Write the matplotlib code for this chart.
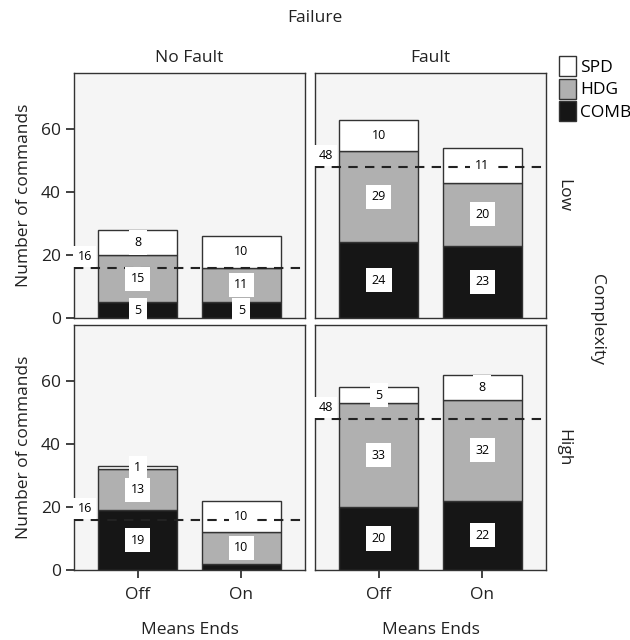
import matplotlib
matplotlib.use("Agg")
import matplotlib.pyplot as plt
from matplotlib.patches import Patch

plt.rcParams['font.family'] = ['Open Sans', 'DejaVu Sans']

means_ends = ["Off", "On"]
failure = ["No Fault", "Fault"]
complexity = ["Low", "High"]
types = ["COMB", "HDG", "SPD"]
colors = {"COMB": "#161616", "HDG": "#b0b0b0", "SPD": "#ffffff"}

# values[(complexity, failure)][type] = [Off, On]
comb = {("Low", "No Fault"): [5, 5], ("Low", "Fault"): [24, 23],
        ("High", "No Fault"): [19, 2], ("High", "Fault"): [20, 22]}
hdg = {("Low", "No Fault"): [15, 11], ("Low", "Fault"): [29, 20],
       ("High", "No Fault"): [13, 10], ("High", "Fault"): [33, 32]}
spd = {("Low", "No Fault"): [8, 10], ("Low", "Fault"): [10, 11],
       ("High", "No Fault"): [1, 10], ("High", "Fault"): [5, 8]}
ref_line = {"No Fault": 16, "Fault": 48}
# labels that are not printed in the original
hidden = [("High", "No Fault", "COMB", "On")]

fig = plt.figure(figsize=(6.3, 6.4), dpi=100)

W, H = 630, 640
lefts = [74, 315]
tops = [73, 325]
pw, ph = 231, 245
fs = 12.5
tc = "#222222"

for r, cx in enumerate(complexity):
    for c, fl in enumerate(failure):
        ax = fig.add_axes([lefts[c] / W, 1 - (tops[r] + ph) / H, pw / W, ph / H])
        ax.set_facecolor("#f5f5f5")
        data = {"COMB": comb[(cx, fl)], "HDG": hdg[(cx, fl)], "SPD": spd[(cx, fl)]}
        xs = [1, 2]
        bottom = [0, 0]
        for t in types:
            vals = data[t]
            ax.bar(xs, vals, width=0.76, bottom=bottom, color=colors[t],
                   edgecolor="#333333", linewidth=1.0, zorder=2)
            for i, v in enumerate(vals):
                if (cx, fl, t, means_ends[i]) in hidden:
                    continue
                ax.text(xs[i], bottom[i] + v / 2, str(v), ha="center", va="center",
                        fontsize=9, zorder=5,
                        bbox=dict(boxstyle="square,pad=0.45", fc="white", ec="none"))
            bottom = [bottom[i] + vals[i] for i in range(2)]
        rl = ref_line[fl]
        ax.axhline(rl, color="#222222", linestyle=(0, (4.5, 3.5)), linewidth=1.5, zorder=4)
        ax.text(0.42, rl + 1.5, str(rl), ha="left", va="bottom", fontsize=9, zorder=5,
                bbox=dict(boxstyle="square,pad=0.35", fc="white", ec="none"))
        ax.set_xlim(0.385, 2.615)
        ax.set_ylim(0, 77.8)
        for s in ax.spines.values():
            s.set_color("#333333")
            s.set_linewidth(1.0)
        ax.tick_params(axis="both", length=6, width=1.3, color="#333333",
                       labelsize=fs, labelcolor=tc)
        ax.tick_params(axis="x", pad=6)
        if c == 0:
            ax.set_yticks([0, 20, 40, 60])
            ax.set_ylabel("Number of commands", fontsize=fs, color=tc, labelpad=6)
        else:
            ax.set_yticks([])
        if r == 1:
            ax.set_xticks(xs)
            ax.set_xticklabels(means_ends)
            ax.set_xlabel("Means Ends", fontsize=fs, color=tc, labelpad=14)
        else:
            ax.set_xticks([])
            ax.set_title(fl, fontsize=fs, color=tc, pad=8)
        if c == 1:
            ax.text(1.04, 0.5, cx, transform=ax.transAxes, rotation=-90,
                    ha="left", va="center", fontsize=fs, color=tc)

fig.text(315 / W, 1 - 18 / H, "Failure", ha="center", va="center", fontsize=fs, color=tc)
fig.text(597 / W, 1 - 320 / H, "Complexity", ha="center", va="center", rotation=-90,
         fontsize=fs, color=tc)

handles = [Patch(facecolor=colors[t], edgecolor="#333333", label=t) for t in ["SPD", "HDG", "COMB"]]
fig.legend(handles=handles, loc="upper left", bbox_to_anchor=(552 / W, 1 - 49 / H),
           frameon=False, fontsize=fs, handlelength=1.0, handleheight=1.4,
           handletextpad=0.2, labelspacing=0.15, borderaxespad=0)

fig.savefig("out.png", dpi=100)
